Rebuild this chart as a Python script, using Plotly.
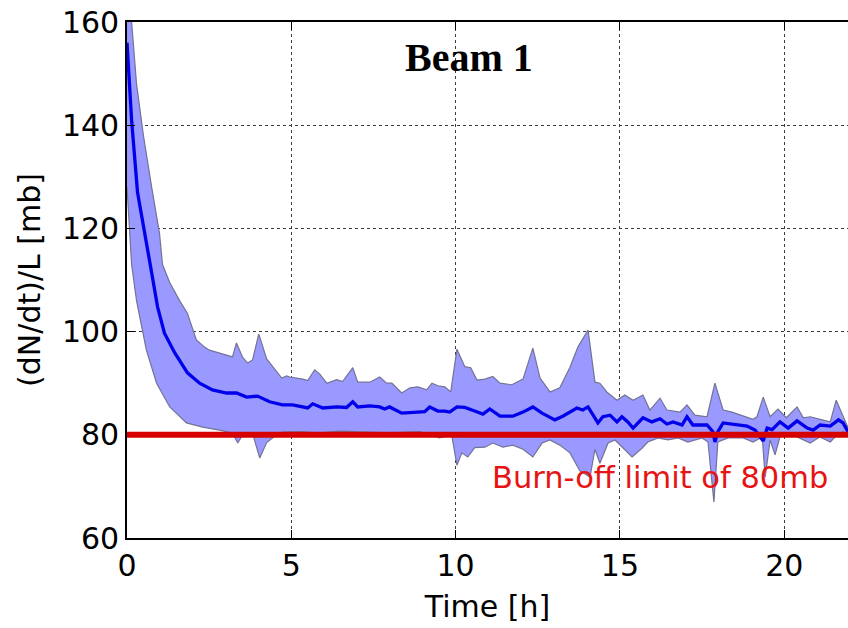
import plotly.graph_objects as go

# Beam 1: burn-off cross-section (dN/dt)/L vs fill time
# upper edge of the spread band
upper_t = [0.00, 0.14, 0.29, 0.50, 0.75, 0.99, 1.08, 1.30, 1.60, 1.84, 2.11, 2.36, 2.51, 2.82,
           3.21, 3.33, 3.52, 3.67, 3.82, 4.01, 4.25, 4.71, 4.86, 4.95, 5.35, 5.50, 5.71, 5.86,
           6.08, 6.38, 6.56, 6.87, 7.02, 7.39, 7.69, 7.90, 8.06, 8.36, 8.61, 8.85, 9.12, 9.28,
           9.46, 9.67, 9.85, 10.04, 10.28, 10.46, 10.65, 10.89, 11.13, 11.35, 11.71, 12.05,
           12.35, 12.57, 12.87, 13.17, 13.48, 13.72, 14.03, 14.24, 14.39, 14.60, 14.91, 15.15,
           15.40, 15.70, 15.91, 16.22, 16.43, 16.83, 17.04, 17.28, 17.65, 17.89, 18.14, 18.41,
           18.75, 19.05, 19.17, 19.36, 19.57, 19.81, 20.06, 20.39, 20.58, 20.79, 21.15, 21.40,
           21.58, 21.76, 21.94]
upper_v = [178, 160, 148, 138, 128, 119, 113, 109.5, 106, 103.5, 98.4, 97, 96.4, 95.8,
           95.1, 97.8, 95, 93.9, 94.5, 99.5, 94.7, 91, 91.4, 91.2, 90.8, 90.5, 92.6, 91.8,
           90, 90.7, 90.3, 93, 90.2, 90.2, 91.2, 90, 90, 88.1, 89.1, 89.3, 88.7, 90,
           89.5, 89.3, 88.3, 96.6, 93.2, 93, 90.6, 90.8, 91.3, 90, 89.7, 90.8,
           96.8, 91, 88.3, 89.1, 93.1, 97, 100.3, 90.2, 90, 88.3, 86.7, 87.7,
           86.7, 87.7, 84.8, 87.1, 84.8, 84.4, 85.8, 83.8, 83.5, 90, 84.8, 84.4,
           83.6, 83, 83.5, 87.3, 83.5, 85, 83.3, 85.4, 83.3, 83.5, 82.9, 82.5,
           86.7, 84.2, 81.4]

# lower edge of the spread band
lower_t = [0.00, 0.14, 0.29, 0.59, 0.90, 1.30, 1.60, 1.81, 2.30, 2.82, 3.21, 3.37, 3.52, 3.82,
           4.04, 4.25, 4.55, 4.73, 5.25, 5.86, 6.47, 7.08, 7.99, 8.90, 9.51, 9.88, 10.04,
           10.19, 10.37, 10.58, 10.89, 11.13, 11.44, 11.74, 12.05, 12.35, 12.63, 12.87, 13.17,
           13.48, 13.78, 14.09, 14.24, 14.39, 14.64, 14.85, 15.09, 15.37, 15.67, 15.85, 16.16,
           16.46, 16.77, 17.07, 17.50, 17.68, 17.86, 17.98, 18.29, 18.75, 19.05, 19.33, 19.42,
           19.57, 19.72, 19.87, 20.09, 20.39, 20.79, 21.09, 21.40, 21.61, 21.79, 21.94]
lower_v = [128, 113, 106, 96.4, 90, 85.4, 83.5, 82.3, 81.5, 80.9, 80.3, 78.4, 80, 80.3,
           75.5, 78.5, 80, 80.5, 80.6, 80.4, 80.7, 80.5, 80.4, 80.6, 79.4, 80, 74.1,
           76.5, 75.7, 77.5, 77.6, 78.4, 77.6, 78, 77.2, 75.7, 78.4, 79, 78,
           76.5, 73, 71.8, 77.2, 74.5, 78.4, 79, 77.4, 75.7, 77.4, 78.6, 79.4,
           79, 79.4, 78.6, 79.4, 78.6, 67, 78.6, 79.4, 79.4, 78.6, 79.6, 71.8,
           79, 76.1, 79.6, 80.3, 79.6, 78.4, 79.6, 78.6, 80, 80.6, 80]

# mean curve
mean_t = [0.00, 0.14, 0.32, 0.53, 0.75, 0.93, 1.14, 1.45, 1.84, 2.21, 2.60, 3.03, 3.33, 3.64,
          3.97, 4.34, 4.73, 5.04, 5.50, 5.65, 5.96, 6.38, 6.68, 6.87, 7.02, 7.39, 7.69, 7.84,
          7.99, 8.36, 8.76, 9.06, 9.21, 9.46, 9.67, 9.82, 10.04, 10.28, 10.58, 10.83, 11.04,
          11.35, 11.74, 12.05, 12.35, 12.63, 13.02, 13.26, 13.69, 13.87, 14.03, 14.33, 14.48,
          14.70, 14.91, 15.06, 15.24, 15.40, 15.70, 15.97, 16.22, 16.43, 16.62, 16.89, 17.04,
          17.22, 17.65, 17.83, 17.89, 17.98, 18.14, 18.56, 18.87, 19.11, 19.36, 19.48, 19.63,
          19.87, 20.12, 20.39, 20.70, 20.88, 21.09, 21.40, 21.65, 21.79, 21.94]
mean_v = [156, 141, 127, 119, 111.4, 104.8, 99.7, 95.9, 92, 90, 88.7, 88.1, 88.1, 87.3,
          87.5, 86.4, 85.8, 85.8, 85.2, 86, 85.2, 85.4, 85.3, 86.4, 85.4, 85.6, 85.4, 85,
          85.4, 84.2, 84.4, 84.5, 85.4, 84.6, 84.6, 84.4, 85.4, 85.3, 84.6, 84, 85,
          83.6, 83.6, 84.4, 85.4, 84.2, 82.9, 83.6, 85.2, 84.8, 85.4, 82.3, 83.5,
          83.8, 82.5, 83.5, 82.5, 81.3, 83.3, 82.5, 83.1, 82.1, 82.5, 81.9, 83.5,
          81.9, 81.9, 80.6, 78.6, 80.6, 82.3, 81.9, 81.7, 80.9, 78.8, 81.3, 81,
          82.5, 81.3, 82.7, 81.3, 80.9, 81.9, 81.7, 82.9, 82.3, 80.6]

BURN_OFF_LIMIT = 80
x_ticks = [0, 5, 10, 15, 20]
y_ticks = [60, 80, 100, 120, 140, 160]

FONT = "DejaVu Sans"

fig = go.Figure()

# band: upper edge forward, lower edge back
fig.add_trace(go.Scatter(
    x=upper_t + lower_t[::-1],
    y=upper_v + lower_v[::-1],
    fill="toself",
    fillcolor="rgb(153,153,255)",
    line=dict(color="rgb(115,115,150)", width=1.2),
    mode="lines",
    hoverinfo="skip",
    showlegend=False,
))

fig.add_hline(y=BURN_OFF_LIMIT, line=dict(color="rgb(215,0,0)", width=6), layer="above")

fig.add_trace(go.Scatter(
    x=mean_t, y=mean_v,
    mode="lines",
    line=dict(color="rgb(0,0,235)", width=3.3),
    showlegend=False,
))

fig.add_annotation(x=11.04, y=71.8, text="Burn-off limit of 80mb", showarrow=False,
                   xanchor="left", yanchor="middle",
                   font=dict(family=FONT, size=30.5, color="rgb(230,20,20)"))

fig.add_annotation(x=10.4, y=153.2, text="<b>Beam 1</b>", showarrow=False,
                   xanchor="center", yanchor="middle",
                   font=dict(family="Liberation Serif", size=40, color="black"))

axis_common = dict(
    showline=True, linecolor="black", linewidth=1.6,
    ticks="inside", ticklen=8, tickwidth=1.2, tickcolor="black",
    showgrid=True, gridcolor="rgb(60,60,60)", gridwidth=1, griddash="dot",
    zeroline=False, automargin=False,
    tickfont=dict(family=FONT, size=30, color="black"),
)

fig.update_xaxes(
    range=[0, 21.94], tickvals=x_ticks, mirror="ticks",
    title=dict(text="Time [h]", font=dict(family=FONT, size=30, color="black"), standoff=14),
    **axis_common,
)
fig.update_yaxes(
    range=[60, 160], tickvals=y_ticks,
    title=dict(text="(dN/dt)/L [mb]", font=dict(family=FONT, size=30, color="black"), standoff=12),
    **axis_common,
)

fig.update_layout(
    width=848, height=628,
    margin=dict(l=127, r=0, t=22, b=90),
    paper_bgcolor="white", plot_bgcolor="white",
    font=dict(family=FONT),
)

# page body has an 8px default margin; drop it so the figure sits at the window origin
fig.write_html("out.html",
               config={"displayModeBar": False},
               post_script="document.body.style.margin='0';document.body.style.overflow='hidden';")
